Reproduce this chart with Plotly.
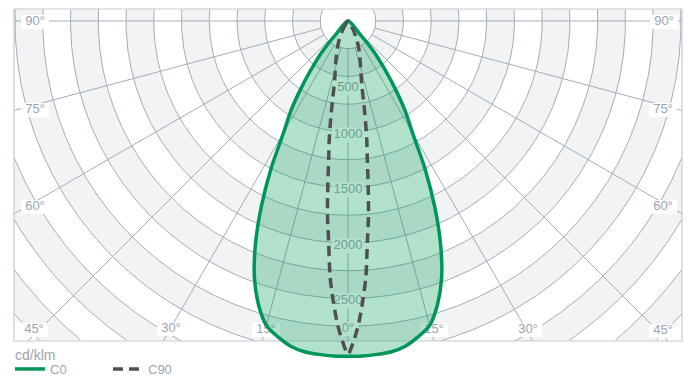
import numpy as np
import plotly.graph_objects as go

# ---------------- data ----------------
c0_angles = [0, 2.5, 5, 7.5, 10, 12.5, 15, 17.5, 20, 22.5, 25, 27.5, 30, 32.5, 35, 37.5, 40, 42.5, 45]
c0_values = [3020, 3020, 3015, 3005, 2975, 2915, 2840, 2680, 2465, 2180, 1850, 1505, 1160, 955, 730, 525, 370, 150, 0]

c90_angles = [0, 1, 2, 3, 4, 5, 6, 7, 8, 9, 10, 11, 12, 14, 16, 18, 20, 25, 30, 35, 40]
c90_values = [3000, 2885, 2730, 2530, 2310, 2000, 1765, 1490, 1250, 1080, 900, 740, 605, 480, 405, 345, 300, 190, 100, 35, 0]

series_names = ["C0", "C90"]
unit_label = "cd/klm"
radial_ticks = [500, 1000, 1500, 2000, 2500]
radial_tick_labels = [str(v) for v in radial_ticks]
angle_ticks = [90, 75, 60, 45, 30, 15, 0, 15, 30, 45, 60, 75, 90]
angle_tick_labels = [f"{a}°" for a in angle_ticks]

# ---------------- geometry / layout ----------------
W, H = 688, 379
CX, CY = 348, 21                 # pixel position of the pole
S = 27.75 / 250                  # pixels per cd/klm
RING_STEP = 250
N_RINGS = 17


def px(xp, yp):
    return (xp - CX) / S, -(yp - CY) / S


BX0, BY1 = px(14, 9)
BX1, BY0 = px(682, 341)

# label pixel positions (layout)
angle_label_pos = [(35, 22), (35, 110), (35, 207), (34, 330), (171, 329), (266, 330), (348, 329),
                   (434, 330), (528, 330), (663, 331), (663, 207), (663, 110), (664, 22)]
radial_label_pos = [(348, 88), (348, 135), (348, 190), (348, 246), (348, 301)]

BAND = "#f2f3f5"
GRID = "#a2adb8"
TXT = "#9aa4ae"
GREEN = "#00965a"
DARK = "#505050"
FONT = "Liberation Sans, Arial, sans-serif"


def polar_to_xy(angles, values):
    a = np.deg2rad(np.concatenate([-np.array(angles[::-1]), np.array(angles[1:])]))
    r = np.concatenate([np.array(values[::-1]), np.array(values[1:])])
    return r * np.sin(a), -r * np.cos(a)


fig = go.Figure()

# grey bands
t = np.linspace(0, 2 * np.pi, 1441)
bx, by = [], []
for k in range(1, N_RINGS, 2):
    r1, r2 = k * RING_STEP, (k + 1) * RING_STEP
    xs = np.concatenate([r2 * np.sin(t), r1 * np.sin(t[::-1])])
    ys = np.concatenate([r2 * np.cos(t), r1 * np.cos(t[::-1])])
    xs = np.clip(xs, BX0, BX1)
    ys = np.clip(ys, BY0, BY1)
    bx += list(xs) + [None]
    by += list(ys) + [None]
fig.add_trace(go.Scatter(x=bx, y=by, mode="lines", fill="toself", fillcolor=BAND,
                         line=dict(width=0), hoverinfo="skip", showlegend=False))


def inside(x, y):
    return (x >= BX0) & (x <= BX1) & (y >= BY0) & (y <= BY1)


# grid circles and spokes
gx, gy = [], []
for n in range(1, N_RINGS):
    r = n * RING_STEP
    xs, ys = r * np.sin(t), r * np.cos(t)
    m = inside(xs, ys)
    gx += [float(v) if ok else None for v, ok in zip(xs, m)] + [None]
    gy += [float(v) if ok else None for v, ok in zip(ys, m)] + [None]
rr = np.linspace(RING_STEP, 5000, 3000)
for a in range(-90, 91, 15):
    ar = np.deg2rad(a)
    xs, ys = rr * np.sin(ar), -rr * np.cos(ar)
    m = inside(xs, ys)
    gx += list(xs[m]) + [None]
    gy += list(ys[m]) + [None]
fig.add_trace(go.Scatter(x=gx, y=gy, mode="lines", line=dict(color=GRID, width=1),
                         hoverinfo="skip", showlegend=False))

# border of the diagram
fig.add_trace(go.Scatter(x=[BX0, BX1, BX1, BX0, BX0], y=[BY1, BY1, BY0, BY0, BY1], mode="lines",
                         line=dict(color="#c3cbd3", width=1.2), hoverinfo="skip", showlegend=False))

# label boxes (white)
lx, ly = [], []


def add_box(xp, yp, w, h):
    x0, y0 = px(xp - w / 2, yp + h / 2)
    x1, y1 = px(xp + w / 2, yp - h / 2)
    lx.extend([x0, x1, x1, x0, x0, None])
    ly.extend([y0, y0, y1, y1, y0, None])


for (xp, yp), lab in zip(angle_label_pos, angle_tick_labels):
    add_box(xp, yp, 8 * len(lab) + 4, 14)
for (xp, yp), lab in zip(radial_label_pos, radial_tick_labels):
    add_box(xp, yp, 7 * len(lab) + 4, 15)
fig.add_trace(go.Scatter(x=lx, y=ly, mode="lines", fill="toself", fillcolor="white",
                         line=dict(width=0), hoverinfo="skip", showlegend=False))

# label texts
tx = [px(*p)[0] for p in angle_label_pos + radial_label_pos]
ty = [px(*p)[1] for p in angle_label_pos + radial_label_pos]
fig.add_trace(go.Scatter(x=tx, y=ty, mode="text", text=angle_tick_labels + radial_tick_labels,
                         textposition="middle center", textfont=dict(family=FONT, size=13, color=TXT),
                         hoverinfo="skip", showlegend=False, cliponaxis=False))

# C0 fill
x0c, y0c = polar_to_xy(c0_angles, c0_values)
fig.add_trace(go.Scatter(x=x0c, y=y0c, mode="lines", fill="toself", fillcolor="rgba(0,155,85,0.30)",
                         line=dict(width=0, shape="spline", smoothing=0.8), hoverinfo="skip",
                         showlegend=False))
# C0 line
fig.add_trace(go.Scatter(x=x0c, y=y0c, mode="lines", name=series_names[0],
                         line=dict(color=GREEN, width=3.5, shape="spline", smoothing=0.8)))
# C90 line
x9, y9 = polar_to_xy(c90_angles, c90_values)
fig.add_trace(go.Scatter(x=x9, y=y9, mode="lines", name=series_names[1],
                         line=dict(color=DARK, width=3.5, dash="10px,6px", shape="spline", smoothing=0.8)))

xr0, yr1 = px(0, 0)
xr1, yr0 = px(W, H)
fig.add_annotation(text=unit_label, xref="paper", yref="paper", x=13 / W, y=1 - 355 / H,
                   xanchor="left", yanchor="middle", showarrow=False,
                   font=dict(family=FONT, size=14, color=TXT))
fig.update_layout(
    width=W, height=H, margin=dict(l=0, r=0, t=0, b=0, autoexpand=False),
    paper_bgcolor="white", plot_bgcolor="white",
    xaxis=dict(range=[xr0, xr1], visible=False, fixedrange=True),
    yaxis=dict(range=[yr0, yr1], visible=False, fixedrange=True),
    showlegend=True,
    legend=dict(orientation="h", x=10 / W, xanchor="left", y=-5 / H, yanchor="bottom",
                bgcolor="rgba(0,0,0,0)", font=dict(family=FONT, size=13, color=TXT),
                entrywidth=53, entrywidthmode="pixels", itemwidth=30, tracegroupgap=0),
    font=dict(family=FONT),
)
fig.write_html("out.html", config={"displayModeBar": False},
               post_script="document.body.style.margin='0';document.body.style.padding='0';")
